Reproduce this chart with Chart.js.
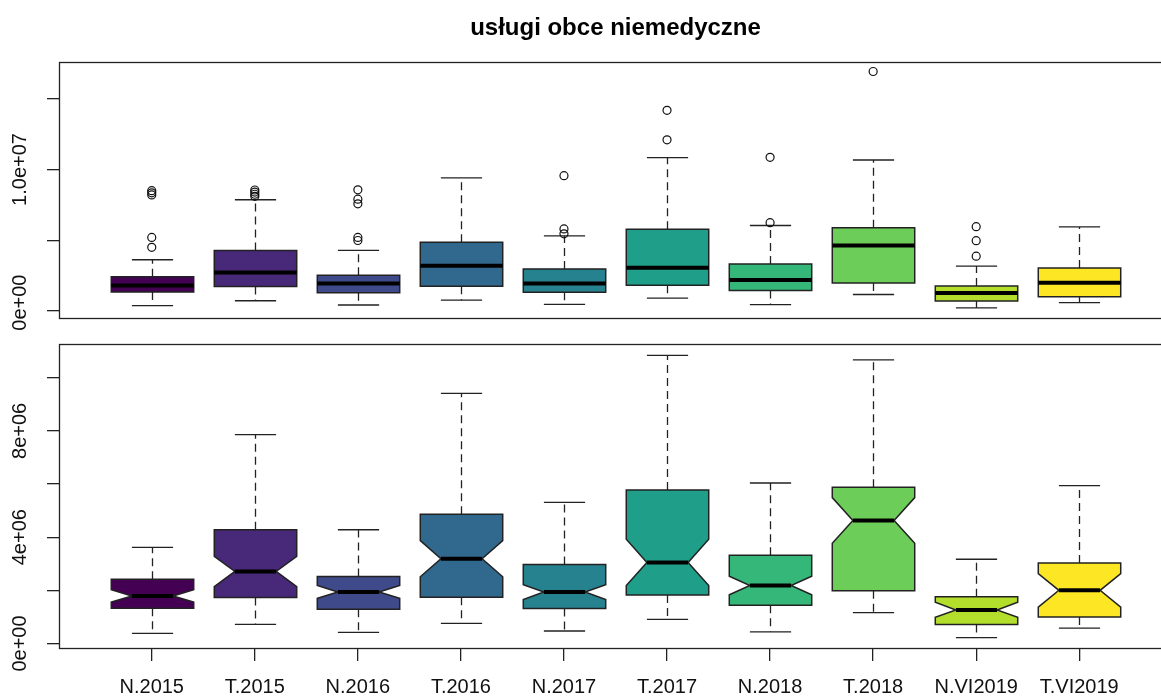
<!DOCTYPE html>
<html>
<head>
<meta charset="utf-8">
<script src="https://cdn.jsdelivr.net/npm/chart.js@4.4.0/dist/chart.umd.min.js"></script>
<style>
  html, body { margin: 0; padding: 0; background: #fff; overflow: hidden; }
  #wrap { position: relative; width: 1161px; height: 696px; overflow: hidden; }
  canvas { position: absolute; left: 0; }
  #topChart { top: 0; }
  #bottomChart { top: 330px; }
</style>
</head>
<body>
<div id="wrap">
  <canvas id="topChart" width="1230" height="330"></canvas>
  <canvas id="bottomChart" width="1230" height="366"></canvas>
</div>
<script>
const title = "usługi obce niemedyczne";
const groups = ["N.2015", "T.2015", "N.2016", "T.2016", "N.2017", "T.2017", "N.2018", "T.2018", "N.VI2019", "T.VI2019"];

// values in millions
const lowerWhisker = [0.38, 0.72, 0.42, 0.76, 0.47, 0.91, 0.44, 1.16, 0.22, 0.58];
const q1 = [1.33, 1.73, 1.29, 1.74, 1.32, 1.82, 1.44, 1.98, 0.71, 1.00];
const median = [1.79, 2.71, 1.94, 3.19, 1.94, 3.05, 2.18, 4.63, 1.26, 2.00];
const q3 = [2.42, 4.28, 2.52, 4.86, 2.97, 5.78, 3.32, 5.88, 1.76, 3.03];
const upperWhisker = [3.62, 7.86, 4.28, 9.41, 5.31, 10.84, 6.04, 10.67, 3.17, 5.94];
const notchLow = [1.56, 2.14, 1.70, 2.51, 1.65, 2.18, 1.83, 3.77, 0.99, 1.37];
const notchHigh = [2.02, 3.28, 2.18, 3.87, 2.21, 3.92, 2.53, 5.49, 1.55, 2.63];
const outliers = [
  [4.50, 5.20, 8.20, 8.35, 8.50],
  [8.10, 8.25, 8.40, 8.55],
  [4.98, 5.20, 7.57, 7.90, 8.56],
  [],
  [5.45, 5.80, 9.56],
  [12.10, 14.18],
  [6.24, 10.86],
  [16.93],
  [3.87, 4.97, 5.96],
  []
];
const boxColors = ["#440154", "#482878", "#3E4A89", "#31688E", "#26828E", "#1F9E89", "#35B779", "#6DCD59", "#B4DE2C", "#FDE725"];

const topTicks = [0, 5, 10, 15];
const topTickLabels = ["0.0e+00", "", "1.0e+07", ""];
const bottomTicks = [0, 2, 4, 6, 8, 10];
const bottomTickLabels = ["0e+00", "", "4e+06", "", "8e+06", ""];

const lineCol = "#222";
const font = "'Liberation Sans', Arial, sans-serif";

// R-style boxplot drawing through the chart scales
const rBoxplot = {
  id: "rBoxplot",
  beforeDatasetsDraw(chart, args, opts) {
    const ctx = chart.ctx, xs = chart.scales.x, ys = chart.scales.y;
    const py = v => ys.getPixelForValue(v);
    ctx.save();
    groups.forEach((g, i) => {
      const cx = Math.round(xs.getPixelForValue(i + 1)) + 0.5;
      const half = xs.getPixelForValue(i + 1.4) - xs.getPixelForValue(i + 1);
      const cap = half / 2;
      ctx.strokeStyle = lineCol;
      ctx.lineWidth = 1.3;
      // whiskers
      ctx.setLineDash([8, 5]);
      ctx.beginPath();
      ctx.moveTo(cx, py(q3[i])); ctx.lineTo(cx, py(upperWhisker[i]));
      ctx.moveTo(cx, py(q1[i])); ctx.lineTo(cx, py(lowerWhisker[i]));
      ctx.stroke();
      ctx.setLineDash([]);
      ctx.beginPath();
      ctx.moveTo(cx - cap, py(upperWhisker[i])); ctx.lineTo(cx + cap, py(upperWhisker[i]));
      ctx.moveTo(cx - cap, py(lowerWhisker[i])); ctx.lineTo(cx + cap, py(lowerWhisker[i]));
      ctx.stroke();
      // box
      ctx.beginPath();
      if (opts.notch) {
        const pts = [
          [-1, q1[i]], [1, q1[i]], [1, notchLow[i]], [0.5, median[i]], [1, notchHigh[i]],
          [1, q3[i]], [-1, q3[i]], [-1, notchHigh[i]], [-0.5, median[i]], [-1, notchLow[i]]
        ];
        pts.forEach((p, k) => {
          const x = cx + p[0] * half, y = py(p[1]);
          if (k === 0) ctx.moveTo(x, y); else ctx.lineTo(x, y);
        });
        ctx.closePath();
      } else {
        ctx.rect(cx - half, py(q3[i]), 2 * half, py(q1[i]) - py(q3[i]));
      }
      ctx.fillStyle = boxColors[i];
      ctx.fill();
      ctx.lineWidth = 1.5;
      ctx.stroke();
      // median
      const mw = opts.notch ? half * 0.5 : half;
      ctx.lineWidth = 4;
      ctx.strokeStyle = "#000";
      ctx.beginPath();
      ctx.moveTo(cx - mw, py(median[i])); ctx.lineTo(cx + mw, py(median[i]));
      ctx.stroke();
    });
    ctx.restore();
  },
  afterDraw(chart, args, opts) {
    const ctx = chart.ctx, a = chart.chartArea, ys = chart.scales.y;
    ctx.save();
    ctx.strokeStyle = lineCol;
    ctx.lineWidth = 1.3;
    ctx.strokeRect(Math.round(a.left) + 0.5, Math.round(a.top) + 0.5, Math.round(a.right - a.left), Math.round(a.bottom - a.top));
    ctx.fillStyle = "#111";
    ctx.font = "20px " + font;
    ctx.textAlign = "center";
    ctx.textBaseline = "alphabetic";
    opts.ticks.forEach((t, k) => {
      if (!opts.labels[k]) return;
      ctx.save();
      ctx.translate(26, ys.getPixelForValue(t));
      ctx.rotate(-Math.PI / 2);
      ctx.fillText(opts.labels[k], 0, 0);
      ctx.restore();
    });
    if (opts.title) {
      ctx.font = "bold 24px " + font;
      ctx.fillStyle = "#000";
      ctx.fillText(opts.title, (a.left + a.right) / 2, 35);
    }
    ctx.restore();
  }
};

function yScale(min, max, ticks) {
  return {
    type: "linear", position: "left", min: min, max: max,
    afterBuildTicks: s => { s.ticks = ticks.map(v => ({ value: v })); },
    afterFit: s => { s.width = 59; },
    ticks: { display: false },
    grid: { drawOnChartArea: false, drawTicks: true, tickLength: 12, color: lineCol, lineWidth: 1.3 },
    border: { display: false }
  };
}

const outlierPoints = [];
outliers.forEach((list, i) => list.forEach(v => outlierPoints.push({ x: i + 1, y: v })));

new Chart(document.getElementById("topChart"), {
  type: "scatter",
  data: {
    datasets: [{
      data: outlierPoints,
      pointStyle: "circle",
      pointRadius: 4,
      pointBorderWidth: 1.2,
      borderColor: "#111",
      backgroundColor: "rgba(0,0,0,0)",
      clip: false
    }]
  },
  options: {
    responsive: false,
    animation: false,
    layout: { padding: { top: 62, bottom: 12, left: 0, right: 58 } },
    scales: {
      x: { type: "linear", min: 0.1, max: 10.9, display: false },
      y: yScale(-0.5, 17.6, topTicks)
    },
    plugins: {
      legend: { display: false },
      tooltip: { enabled: false },
      rBoxplot: { notch: false, ticks: topTicks, labels: topTickLabels, title: title }
    }
  },
  plugins: [rBoxplot]
});

new Chart(document.getElementById("bottomChart"), {
  type: "scatter",
  data: { datasets: [{ data: [], pointRadius: 0 }] },
  options: {
    responsive: false,
    animation: false,
    layout: { padding: { top: 14, bottom: 0, left: 0, right: 58 } },
    scales: {
      x: {
        type: "linear", position: "bottom", min: 0.1, max: 10.9,
        afterBuildTicks: s => { s.ticks = groups.map((g, i) => ({ value: i + 1 })); },
        afterFit: s => { s.height = 48; },
        ticks: {
          autoSkip: false, maxRotation: 0, minRotation: 0, padding: 14,
          color: "#111", font: { size: 20, family: font },
          callback: v => groups[Math.round(v) - 1]
        },
        grid: { drawOnChartArea: false, drawTicks: true, tickLength: 13, color: lineCol, lineWidth: 1.3 },
        border: { display: false }
      },
      y: yScale(-0.17, 11.27, bottomTicks)
    },
    plugins: {
      legend: { display: false },
      tooltip: { enabled: false },
      rBoxplot: { notch: true, ticks: bottomTicks, labels: bottomTickLabels }
    }
  },
  plugins: [rBoxplot]
});
</script>
</body>
</html>
